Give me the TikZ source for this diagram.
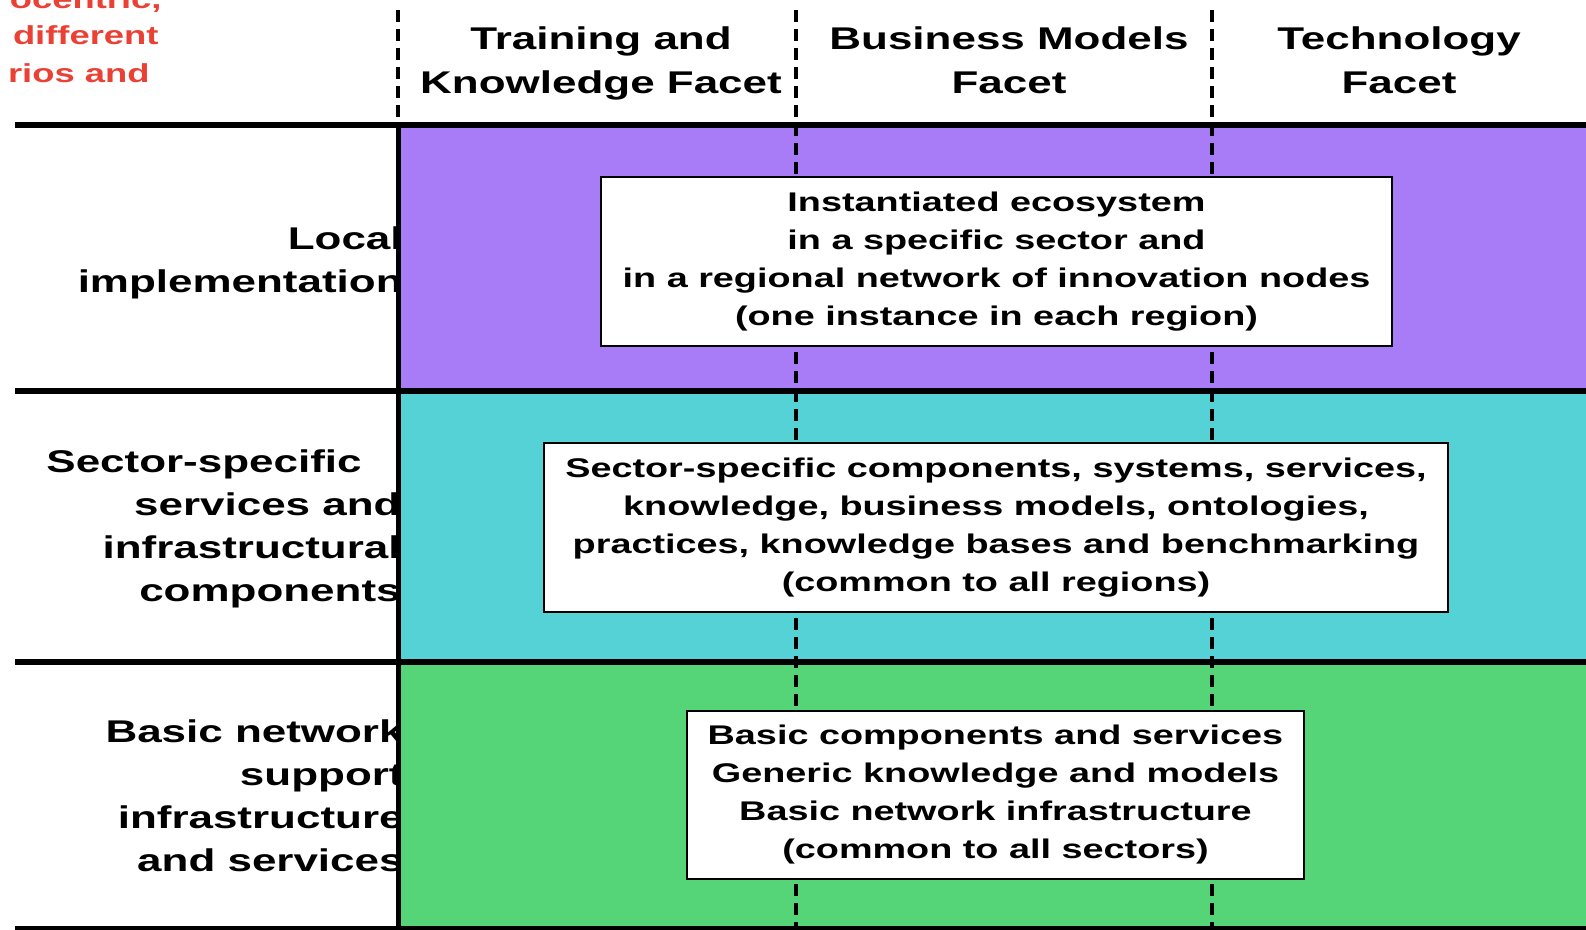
\documentclass[tikz,border=0pt]{standalone}
\usepackage{fontspec}
\usetikzlibrary{positioning}
\newfontfamily\widebold[FakeStretch=1.4]{Liberation Sans Bold}
\definecolor{localfill}{RGB}{168,124,246}
\definecolor{sectorfill}{RGB}{84,210,214}
\definecolor{basicfill}{RGB}{86,212,120}
\definecolor{notered}{RGB}{235,64,52}
\tikzset{
  facet/.style={inner sep=0pt, align=center, font=\widebold\fontsize{15.7}{22}\selectfont},
  rowlabel/.style={inner sep=0pt, align=right, anchor=east, font=\widebold\fontsize{15.7}{21.5}\selectfont},
  layerbox/.style={draw, line width=0.8pt, fill=white, align=center, inner sep=0pt,
    font=\widebold\fontsize{13.5}{19}\selectfont, execute at begin node={\rule{0pt}{16pt}}},
  cutnote/.style={inner sep=0pt, anchor=base east, text=notered, font=\widebold\fontsize{13}{19}\selectfont},
  divider/.style={line width=3pt},
  facetline/.style={line width=1.8pt, dash pattern=on 6pt off 3.5pt}
}
\begin{document}
\begin{tikzpicture}[x=0.5pt,y=-0.5pt]
    \useasboundingbox (0,0) rectangle (1586,930);
    \begin{scope}
    \clip (0,0) rectangle (1586,930);
        % Define the corners of the grid
        \coordinate (gridtl) at (398,125);
        \coordinate (gridtr) at (1586,125);
        \coordinate (rowab) at (398,391);
        \coordinate (rowbc) at (398,662);

        % Red note, cut at the left edge
        \node[cutnote] (note1) at (162,9) {ocentric,};
        \node[cutnote] (note2) at (159,45) {different};
        \node[cutnote] (note3) at (150,83) {rios and};

        % Row labels (their right ends go under the colours)
        \node[rowlabel] (local) at (403,263) {Local\\implementation};
        \node[rowlabel] (sector) at (401,529) {Sector-specific\hspace*{19.5pt}\\services and\\infrastructural\\components};
        \node[rowlabel] (basic) at (404,796) {Basic network\\support\\infrastructure\\and services};

        % Fill the rows
        \fill[localfill] (400,125) rectangle (1586,391);
        \fill[sectorfill] (400,391) rectangle (1586,662);
        \fill[basicfill] (400,662) rectangle (1586,930);

        % Facet headers
        \node[facet] (training) at (601,63) {Training and\\Knowledge Facet};
        \node[facet] (business) at (1009,60) {Business Models\\Facet};
        \node[facet] (technology) at (1399,60) {Technology\\Facet};

        % Draw the lines
        \draw[facetline] (398,10) -- (gridtl);
        \foreach \x in {796,1212}
            \draw[facetline] (\x,10) -- (\x,930);
        \draw[divider] (15,125) -- (gridtr);
        \draw[divider] (15,391) -- (1586,391);
        \draw[divider] (15,662) -- (1586,662);
        \draw[divider] (15,928.5) -- (1586,928.5);
        \draw[line width=2.5pt] (gridtl) -- (398,930);

        % Boxes in the rows
        \node[layerbox, minimum width=395.5pt, minimum height=84.5pt] (ecosystem) at (996.5,261.5)
            {Instantiated ecosystem\\in a specific sector and\\in a regional network of innovation nodes\\(one instance in each region)};
        \node[layerbox, minimum width=452pt, minimum height=84.5pt] (sectorbox) at (996,527.5)
            {Sector-specific components, systems, services,\\knowledge, business models, ontologies,\\practices, knowledge bases and benchmarking\\(common to all regions)};
        \node[layerbox, minimum width=308.5pt, minimum height=84pt] (basicbox) at (995.5,795)
            {Basic components and services\\Generic knowledge and models\\Basic network infrastructure\\(common to all sectors)};
    \end{scope}
\end{tikzpicture}
\end{document}
